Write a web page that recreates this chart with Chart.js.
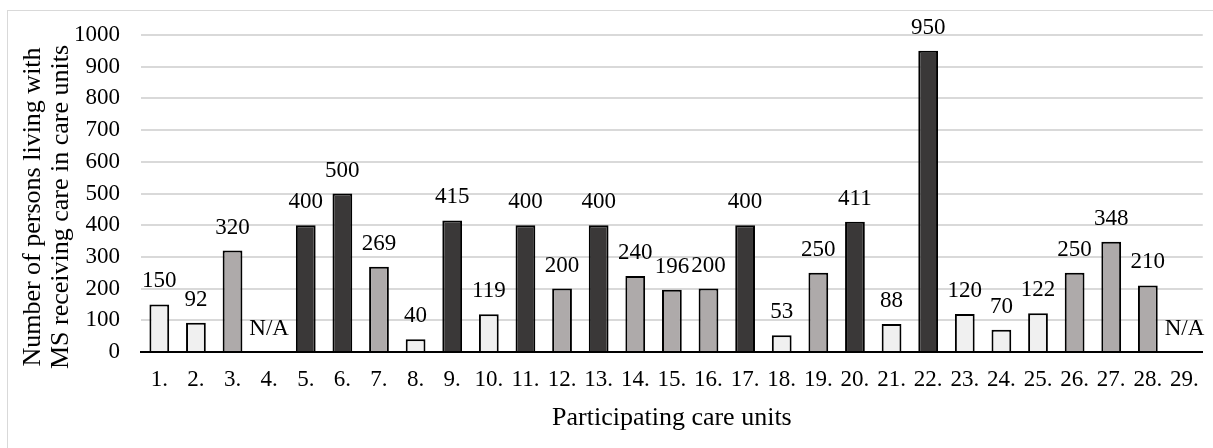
<!DOCTYPE html>
<html>
<head>
<meta charset="utf-8">
<script src="https://cdn.jsdelivr.net/npm/chart.js@4.4.1/dist/chart.umd.min.js"></script>
<style>
html,body{margin:0;padding:0;background:#fff;overflow:hidden;}
#wrap{position:relative;width:1213px;height:448px;}
#frame{position:absolute;left:7px;top:10px;width:1300px;height:500px;border:1px solid #d9d9d9;box-sizing:border-box;}
canvas{position:absolute;left:0;top:0;}
</style>
</head>
<body>
<div id="wrap">
<div id="frame"></div>
<canvas id="c" width="1213" height="448"></canvas>
</div>
<script>
const categories = ["1.","2.","3.","4.","5.","6.","7.","8.","9.","10.","11.","12.","13.","14.","15.","16.","17.","18.","19.","20.","21.","22.","23.","24.","25.","26.","27.","28.","29."];
const values = [150,92,320,null,400,500,269,40,415,119,400,200,400,240,196,200,400,53,250,411,88,950,120,70,122,250,348,210,null];
const groups = ["L","L","G","L","D","D","G","L","D","L","D","G","D","G","G","G","D","L","G","D","L","D","L","L","L","G","G","G","L"];
const yTicks = [0,100,200,300,400,500,600,700,800,900,1000];
const yTitle = ["Number of persons living with","MS receiving care in care units"];
const xTitle = "Participating care units";
const naLabel = "N/A";

const groupColors = {L:"#f0f0f0", G:"#aeaaaa", D:"#3a3838"};
const FONT = "'Liberation Serif', serif";

const labelsPlugin = {
  id:"labelsPlugin",
  afterDatasetsDraw(chart){
    const ctx = chart.ctx;
    const meta = chart.getDatasetMeta(0);
    const y = chart.scales.y;
    ctx.save();
    ctx.font = "23px " + FONT;
    ctx.fillStyle = "#000";
    ctx.textAlign = "center";
    ctx.textBaseline = "alphabetic";
    meta.data.forEach((bar,i)=>{
      const v = values[i];
      const txt = v === null ? naLabel : String(v);
      const top = v === null ? y.getPixelForValue(0) : y.getPixelForValue(v);
      ctx.fillText(txt, bar.x, top - 17);
    });
    ctx.restore();
  },
  afterDraw(chart){
    const ctx = chart.ctx;
    const a = chart.chartArea;
    ctx.save();
    ctx.font = "26px " + FONT;
    ctx.fillStyle = "#000";
    ctx.textAlign = "center";
    ctx.textBaseline = "middle";
    ctx.fillText(xTitle, (a.left + a.right)/2, 418);
    ctx.translate(0, 207);
    ctx.rotate(-Math.PI/2);
    ctx.fillText(yTitle[0], 0, 33);
    ctx.fillText(yTitle[1], 0, 61);
    ctx.restore();
  }
};

new Chart(document.getElementById("c"), {
  type:"bar",
  data:{
    labels:categories,
    datasets:[{
      data:values,
      backgroundColor:groups.map(g=>groupColors[g]),
      borderColor:"#000",
      borderWidth:2,
      borderSkipped:"bottom",
      categoryPercentage:1,
      barPercentage:0.54
    }]
  },
  options:{
    responsive:false,
    animation:false,
    devicePixelRatio:1,
    layout:{padding:{left:0,right:10,top:35,bottom:0}},
    plugins:{legend:{display:false},tooltip:{enabled:false},title:{display:false}},
    scales:{
      x:{
        grid:{display:false,drawTicks:false},
        border:{display:true,color:"#000",width:2},
        ticks:{font:{family:FONT,size:23},color:"#000",padding:14,maxRotation:0,autoSkip:false},
        afterFit(s){ s.height = 96; }
      },
      y:{
        min:0,max:1000,
        afterBuildTicks(s){ s.ticks = yTicks.map(v=>({value:v})); },
        grid:{color:"#d9d9d9",lineWidth:2,drawTicks:false},
        border:{display:false},
        ticks:{font:{family:FONT,size:23},color:"#000",padding:21,callback:(v)=>String(v)},
        afterFit(s){ s.width = 141; }
      }
    }
  },
  plugins:[labelsPlugin]
});
</script>
</body>
</html>
